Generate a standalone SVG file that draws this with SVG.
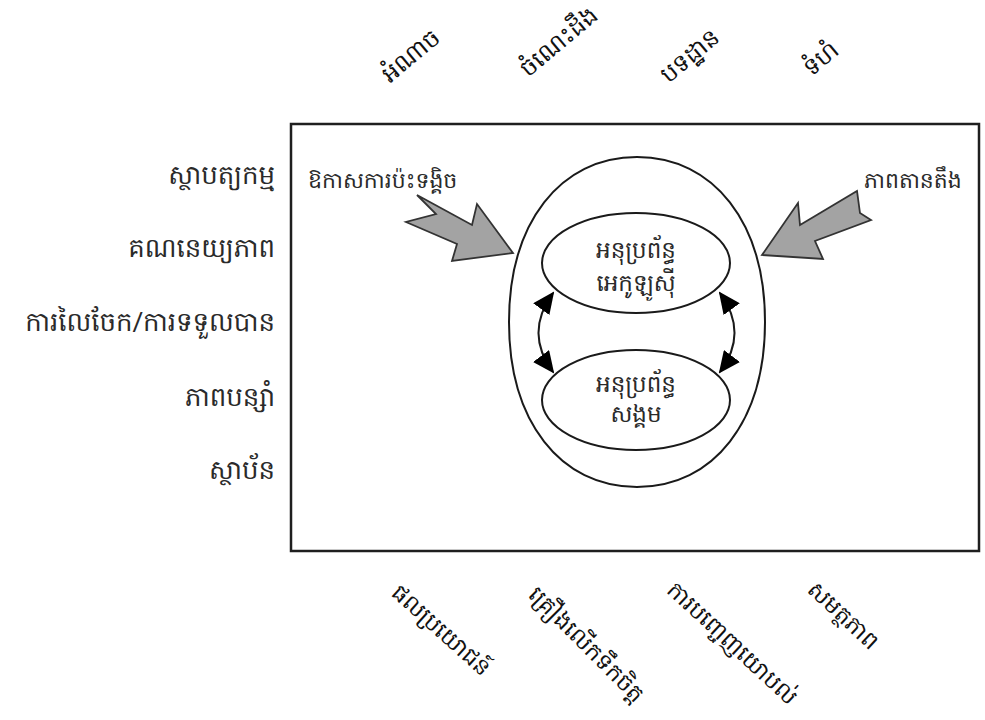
<svg xmlns="http://www.w3.org/2000/svg" width="985" height="720" viewBox="0 0 985 720">
<defs>
<style>
.t{font-family:"Khmer OS","Hanuman","Noto Serif Khmer","Noto Sans Khmer","Noto Sans","DejaVu Sans",sans-serif;fill:#2a2a2a;}
.lf{font-size:26px;text-anchor:end;}
.rot{font-size:24px;text-anchor:middle;fill:#111;}
.rb{font-size:23px;text-anchor:middle;fill:#111;}
.in{font-size:23px;text-anchor:middle;}
.lb{font-size:22px;}
.ln{fill:none;stroke:#1a1a1a;stroke-width:2;}
.big{fill:#a3a3a3;stroke:#333;stroke-width:1.8;stroke-linejoin:miter;}
</style>
<marker id="tri" viewBox="0 0 22 20" refX="20" refY="10" markerWidth="22" markerHeight="20" markerUnits="userSpaceOnUse" orient="auto-start-reverse">
<path d="M0,0 L22,10 L0,20 Z" fill="#000"/>
</marker>
</defs>
<rect width="985" height="720" fill="#fff"/>

<g id="frame">
<rect x="291" y="124" width="688" height="427" fill="#fff" stroke="#1f1f1f" stroke-width="2.5"/>
</g>

<g id="outer">
<path class="ln" d="M509,322 C509,223 560,157 637,157 C714,157 765,223 765,322 C765,421 714,487 637,487 C560,487 509,421 509,322 Z"/>
</g>

<g id="eco">
<ellipse cx="636" cy="263" rx="94" ry="50" fill="#fff" stroke="#1a1a1a" stroke-width="2"/>
<text class="t in" x="636" y="258">អនុប្រព័ន្ធ</text>
<text class="t in" x="636" y="291">អេកូឡូស៊ី</text>
</g>

<g id="social">
<ellipse cx="636" cy="400" rx="94" ry="50" fill="#fff" stroke="#1a1a1a" stroke-width="2"/>
<text class="t in" x="636" y="392">អនុប្រព័ន្ធ</text>
<text class="t in" x="636" y="422">សង្គម</text>
</g>

<g id="connectors">
<path class="ln" d="M553,293 Q524,333 553,372" marker-start="url(#tri)" marker-end="url(#tri)"/>
<path class="ln" d="M720,293 Q749,333 720,372" marker-start="url(#tri)" marker-end="url(#tri)"/>
<path class="big" d="M513,253 L477,204 L472,225 L417,195 L436,214 L406,222 L457,244 L452,261 Z"/>
<path class="big" d="M762,255 L798,203 L800,225 L857,191 L860,213 L871,220 L815,241 L823,259 Z"/>
</g>

<g id="conflict"><text class="t lb" x="308" y="188">ឱកាសការប៉ះទង្គិច</text></g>
<g id="tension"><text class="t lb" x="864" y="188">ភាពតានតឹង</text></g>

<g id="left-labels">
<text class="t lf" x="275" y="184">ស្ថាបត្យកម្ម</text>
<text class="t lf" x="275" y="257">គណនេយ្យភាព</text>
<text class="t lf" x="275" y="331">ការលៃចែក/ការទទួលបាន</text>
<text class="t lf" x="275" y="406">ភាពបន្សាំ</text>
<text class="t lf" x="275" y="479">ស្ថាប័ន</text>
</g>

<g id="top-labels">
<text class="t rot" transform="translate(416,62) rotate(-40)">អំណាច</text>
<text class="t rot" transform="translate(564,48) rotate(-40)">ចំណេះដឹង</text>
<text class="t rot" transform="translate(695,62) rotate(-40)">បទដ្ឋាន</text>
<text class="t rot" transform="translate(826,65) rotate(-40)">ទំហំ</text>
</g>

<g id="bottom-labels">
<text class="t rb" transform="translate(436,636) rotate(42)">ផលប្រយោជន៍</text>
<text class="t rb" transform="translate(581,650) rotate(45)">គ្រឿងលើកទឹកចិត្ត</text>
<text class="t rb" transform="translate(727,649) rotate(43)">ការបញ្ចេញយោបល់</text>
<text class="t rb" transform="translate(838,621) rotate(43)">សមត្ថភាព</text>
</g>
</svg>
